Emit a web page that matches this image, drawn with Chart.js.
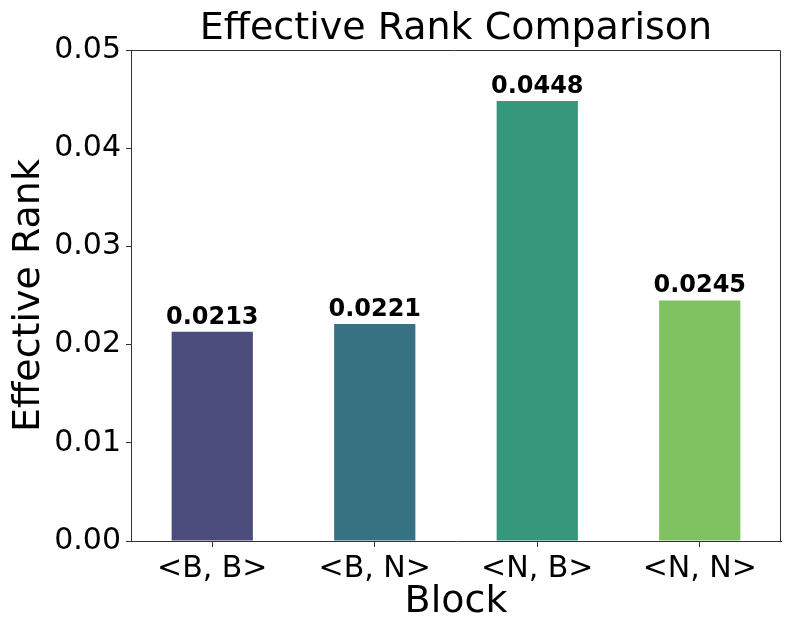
<!DOCTYPE html>
<html>
<head>
<meta charset="utf-8">
<script src="https://cdn.jsdelivr.net/npm/chart.js@4/dist/chart.umd.min.js"></script>
<style>
html,body{margin:0;padding:0;background:#fff;}
#wrap{width:793px;height:634px;}
</style>
</head>
<body>
<div id="wrap"><canvas id="c" width="793" height="634"></canvas></div>
<script>
const categories = ['<B, B>', '<B, N>', '<N, B>', '<N, N>'];
const effectiveRank = [0.0213, 0.0221, 0.0448, 0.0245];
const barColors = ['#4b4c7c', '#377282', '#35977b', '#80c262'];
const yTicks = [0, 0.01, 0.02, 0.03, 0.04, 0.05];

const FONT = "'DejaVu Sans', sans-serif";

const frame = {
  id: 'frame',
  afterDatasetsDraw(chart) {
    const a = chart.chartArea;
    const ctx = chart.ctx;
    ctx.save();
    ctx.strokeStyle = '#333';
    ctx.lineWidth = 1;
    ctx.beginPath();
    ctx.moveTo(a.left, a.top + 0.5);
    ctx.lineTo(a.right - 0.5, a.top + 0.5);
    ctx.lineTo(a.right - 0.5, a.bottom);
    ctx.stroke();
    // value labels
    ctx.fillStyle = '#000';
    ctx.font = 'bold 24px ' + FONT;
    ctx.textAlign = 'center';
    ctx.textBaseline = 'alphabetic';
    const meta = chart.getDatasetMeta(0);
    meta.data.forEach((bar, i) => {
      ctx.fillText(effectiveRank[i].toFixed(4), bar.x, bar.y - 8);
    });
    ctx.restore();
  }
};

new Chart(document.getElementById('c'), {
  type: 'bar',
  data: {
    labels: categories,
    datasets: [{
      data: effectiveRank,
      backgroundColor: barColors,
      borderWidth: 0,
      categoryPercentage: 1.0,
      barPercentage: 0.5
    }]
  },
  options: {
    responsive: false,
    animation: false,
    layout: { padding: { right: 12, left: 0, top: 0, bottom: 0 } },
    plugins: {
      legend: { display: false },
      tooltip: { enabled: false },
      title: {
        display: true,
        text: 'Effective Rank Comparison',
        fullSize: false,
        color: '#000',
        font: { family: FONT, size: 38, weight: 'normal', lineHeight: 1.1 },
        padding: { top: 8.2, bottom: 0 }
      }
    },
    scales: {
      x: {
        afterFit(s) { s.height = 93; },
        grid: { offset: false, drawOnChartArea: false, drawTicks: true, tickLength: 6, color: '#333' },
        border: { display: true, color: '#333', width: 1 },
        ticks: { color: '#000', font: { family: FONT, size: 30 }, padding: 4, maxRotation: 0 },
        title: {
          display: true, text: 'Block', color: '#000',
          font: { family: FONT, size: 38, lineHeight: 1.2 },
          padding: { top: 0, bottom: 9 }
        }
      },
      y: {
        min: 0, max: 0.05,
        afterFit(s) { s.width = 131; },
        afterBuildTicks(s) { s.ticks = yTicks.map(v => ({ value: v })); },
        grid: { drawOnChartArea: false, drawTicks: true, tickLength: 5, color: '#333' },
        border: { display: true, color: '#333', width: 1 },
        ticks: {
          color: '#000', font: { family: FONT, size: 30 }, padding: 5,
          callback: v => Number(v).toFixed(2)
        },
        title: {
          display: true, text: 'Effective Rank', color: '#000',
          font: { family: FONT, size: 38, lineHeight: 1.2 },
          padding: { top: 6, bottom: 0 }
        }
      }
    }
  },
  plugins: [frame]
});
</script>
</body>
</html>
